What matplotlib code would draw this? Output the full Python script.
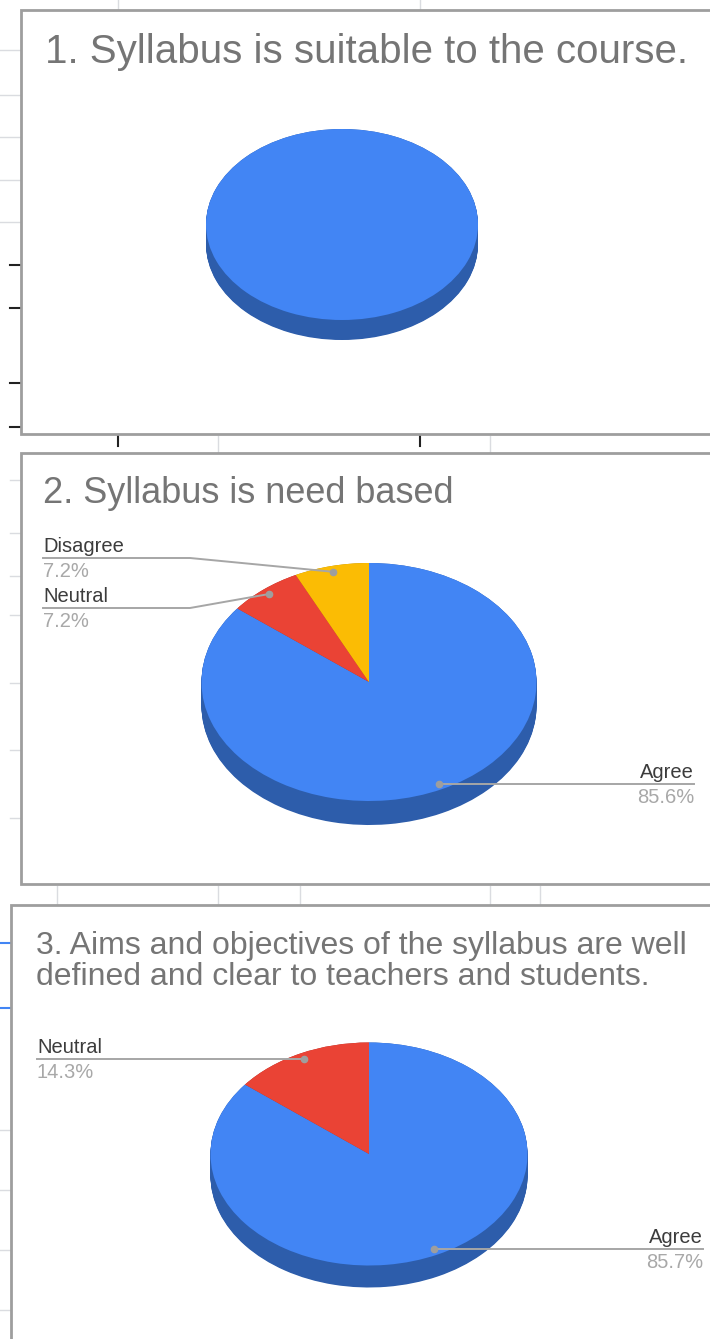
import numpy as np
import matplotlib.pyplot as plt

plt.rcParams['font.family'] = ['Liberation Sans', 'DejaVu Sans']

W, H = 710, 1339

# survey answers, percent of respondents
categories = ['Agree', 'Neutral', 'Disagree']
q1_pct = [100.0, 0.0, 0.0]
q2_pct = [85.6, 7.2, 7.2]
q3_pct = [85.7, 14.3, 0.0]

titles = [
    ['1. Syllabus is suitable to the course.'],
    ['2. Syllabus is need based'],
    ['3. Aims and objectives of the syllabus are well',
     'defined and clear to teachers and students.'],
]

top_colors = ['#4285f4', '#ea4335', '#fbbc04']
side_colors = ['#2d5dab', '#a3302a', '#b08504']

# layout of each chart card, in screen pixels
panels = [
    dict(values=q1_pct, box=(21, 10, 712, 434), title_xy=(45, 63), title_size=29,
         line_gap=0, pie=(342, 224.5, 136, 95.5, 20), labels={}),
    dict(values=q2_pct, box=(21, 453, 712, 884), title_xy=(43, 503), title_size=26,
         line_gap=0, pie=(369, 682, 167.5, 119, 24),
         labels={'Agree': (694, None, 'right'),
                 'Neutral': (43, 608, 'left'),
                 'Disagree': (43, 558, 'left')}),
    dict(values=q3_pct, box=(11, 905, 712, 1345), title_xy=(36, 954), title_size=23,
         line_gap=31, pie=(369, 1154, 158.5, 111.5, 22),
         labels={'Agree': (703, None, 'right'),
                 'Neutral': (37, None, 'left')}),
]

fig = plt.figure(figsize=(W / 100, H / 100), dpi=100)


def slice_mid_angles(vals):
    vals = np.asarray(vals, dtype=float)
    frac = vals / vals.sum()
    before = np.concatenate([[0], np.cumsum(frac)[:-1]])
    return np.radians(90 - 360 * (before + frac / 2))


# 3D pies: stacked dark copies make the side wall, bright pie on top
for p in panels:
    cx, cy, rx, ry, depth = p['pie']
    keep = [i for i, v in enumerate(p['values']) if v > 0]
    vals = [p['values'][i] for i in keep]
    ax = fig.add_axes([(cx - rx) / W, 1 - (cy + ry + depth) / H,
                       2 * rx / W, (2 * ry + depth) / H])
    d = depth / ry
    for s in np.linspace(d, 0, 30):
        ax.pie(vals, colors=[side_colors[i] for i in keep], startangle=90,
               counterclock=False, center=(0, -s),
               wedgeprops=dict(linewidth=0, antialiased=True))
    ax.pie(vals, colors=[top_colors[i] for i in keep], startangle=90,
           counterclock=False, center=(0, 0),
           wedgeprops=dict(linewidth=0, antialiased=True))
    ax.set_aspect('auto')
    ax.set_xlim(-1, 1)
    ax.set_ylim(-1 - d, 1)
    ax.axis('off')

# overlay in pixel coordinates: cards, titles, leader lines
ov = fig.add_axes([0, 0, 1, 1], zorder=10)
ov.set_xlim(0, W)
ov.set_ylim(H, 0)
ov.patch.set_alpha(0)
ov.axis('off')

# spreadsheet grid peeking out behind the cards
grid = '#dadce0'
for x in [118, 420]:
    ov.plot([x, x], [0, 9], color=grid, lw=1)
for y in [50, 95, 137, 180, 222]:
    ov.plot([0, 20], [y, y], color=grid, lw=1)
for y in [265, 308, 383, 427]:
    ov.plot([10, 20], [y, y], color='#222222', lw=1.5)
for x in [118, 420]:
    ov.plot([x, x], [436, 446], color='#222222', lw=1.5)
for x in [218, 490]:
    ov.plot([x, x], [436, 452], color=grid, lw=1)
for y in [480, 533, 576, 615, 683, 750, 818]:
    ov.plot([10, 20], [y, y], color=grid, lw=1)
for x in [57, 218, 300, 490, 540]:
    ov.plot([x, x], [886, 904], color=grid, lw=1)
for y in [943, 1008]:
    ov.plot([0, 10], [y, y], color='#4285f4', lw=1.5)
for y in [1130, 1190, 1250, 1310]:
    ov.plot([0, 10], [y, y], color=grid, lw=1)

for p, title in zip(panels, titles):
    x0, y0, x1, y1 = p['box']
    ov.plot([x1, x0, x0, x1], [y0, y0, y1, y1], color='#9e9e9e', lw=2,
            solid_joinstyle='miter', clip_on=False)
    tx, ty = p['title_xy']
    for k, line in enumerate(title):
        ov.text(tx, ty + k * p['line_gap'], line, fontsize=p['title_size'],
                color='#757575', va='baseline', ha='left')

    cx, cy, rx, ry, depth = p['pie']
    vals = p['values']
    mids = slice_mid_angles(vals)
    for i, cat in enumerate(categories):
        if cat not in p['labels'] or vals[i] <= 0:
            continue
        lx, ly, side = p['labels'][cat]
        px = cx + 0.95 * rx * np.cos(mids[i])
        py = cy - 0.95 * ry * np.sin(mids[i])
        if ly is None:
            ly = py
        if side == 'left':
            xs, ys = [lx, 190, px], [ly, ly, py]
        else:
            xs, ys = [px, lx], [ly, ly]
        ov.plot(xs, ys, color='#a6a6a6', lw=1.4)
        ov.plot(px, py, 'o', color='#9e9e9e', ms=4.5)
        ov.text(lx, ly - 6, cat, fontsize=14.5, color='#3c3c3c',
                ha=side, va='baseline')
        ov.text(lx, ly + 19, '%.1f%%' % vals[i], fontsize=14.5,
                color='#a8a8a8', ha=side, va='baseline')

fig.savefig('out.png', dpi=100)
